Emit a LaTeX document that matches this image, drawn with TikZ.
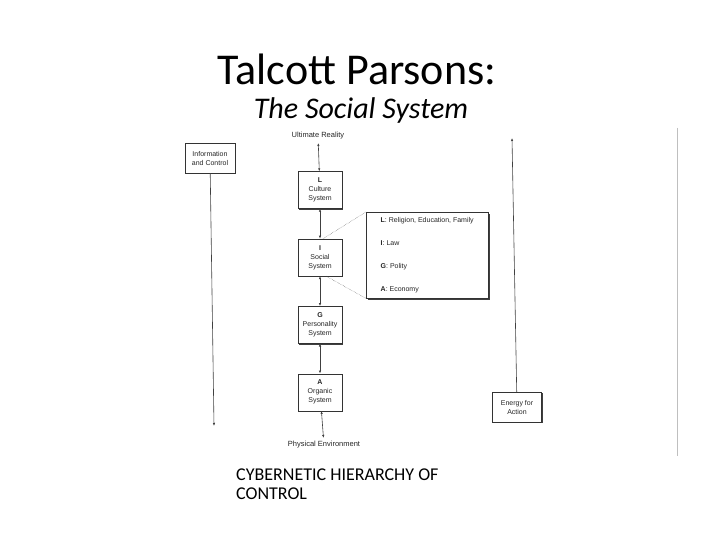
\documentclass[tikz,border=0pt]{standalone}
\usepackage{fontspec}
\setmainfont{Carlito}
\newfontfamily\scanfont{Liberation Sans}
\usetikzlibrary{positioning,shadows,arrows.meta}
\tikzset{
  sysbox/.style={draw=black!80, fill=white, thin, minimum width=44pt,
    minimum height=37pt, align=center, inner sep=1pt,
    font=\scanfont\fontsize{7}{9}\selectfont, text=black!85,
    drop shadow={shadow xshift=1.4pt, shadow yshift=-1.4pt, fill=black!75, opacity=1}},
  scantext/.style={font=\scanfont\fontsize{7.5}{8.5}\selectfont, text=black!85},
  link/.style={draw=black!75, line width=0.6pt,
    {Latex[length=3pt,width=2.4pt]}-{Latex[length=3pt,width=2.4pt]}},
  oneway/.style={draw=black!75, line width=0.6pt, -{Latex[length=3pt,width=2.4pt]}},
  zoomline/.style={draw=black!70, densely dotted, thin}
}
\begin{document}
\begin{tikzpicture}[x=1pt,y=-1pt,node distance=30pt]
  \useasboundingbox[fill=white] (0,0) rectangle (720,540);
  % title
  \node (title) at (357,69) {\fontsize{44}{48}\selectfont Talcott Parsons:};
  \node (subtitle) at (361,111) {\fontsize{30}{34}\selectfont\itshape The Social System};
  % hierarchy
  \node[scantext] (reality) at (318,136) {Ultimate Reality};
  \node[sysbox] (culture) at (320,190) {\textbf{L}\\Culture\\System};
  \node[sysbox,below=of culture] (social) {\textbf{I}\\Social\\System};
  \node[sysbox,below=of social] (personality) {\textbf{G}\\Personality\\System};
  \node[sysbox,below=of personality] (organic) {\textbf{A}\\Organic\\System};
  \node[scantext] (physical) at (324,445) {Physical Environment};
  \draw[link] (reality) -- (culture);
  \draw[link] (culture) -- (social);
  \draw[link] (social) -- (personality);
  \draw[link] (personality) -- (organic);
  \draw[link] (organic) -- (physical);
  % subsystems of the social system
  \node[sysbox,anchor=north west,align=left,minimum width=122pt,
    minimum height=86pt,inner xsep=5pt,inner ysep=4pt] (functions) at (366,212)
    {\textbf{L}: Religion, Education, Family\\[14pt]
     \textbf{I}: Law\\[14pt]
     \textbf{G}: Polity\\[14pt]
     \textbf{A}: Economy};
  \draw[zoomline] ([xshift=3pt]social.north) -- (functions.north west);
  \draw[zoomline] ([xshift=6pt]social.south) -- (functions.south west);
  % control and energy
  \node[sysbox,minimum width=50pt,minimum height=30pt] (info) at (210,158)
    {Information\\and Control};
  \node[sysbox,minimum width=49pt,minimum height=30pt] (energy) at (517,407)
    {Energy for\\Action};
  \coordinate (infoend) at (214,426);
  \coordinate (energyend) at (512,138);
  \draw[oneway] (info) -- (infoend);
  \draw[oneway] (energy) -- (energyend);
  % edge of the scan
  \coordinate (edgetop) at (677,128);
  \coordinate (edgebot) at (677,456);
  \draw[black!25] (edgetop) -- (edgebot);
  % caption
  \node[anchor=north west,align=left,font=\fontsize{18}{19}\selectfont,inner sep=0pt]
    (caption) at (236,469) {CYBERNETIC HIERARCHY OF\\CONTROL};
\end{tikzpicture}
\end{document}
